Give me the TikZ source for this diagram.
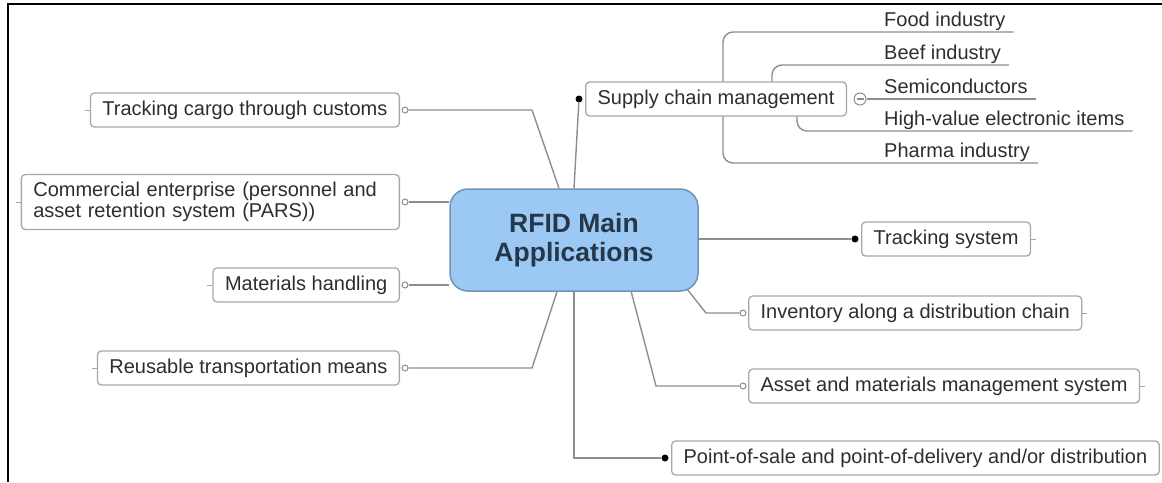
\documentclass[tikz,border=0pt]{standalone}
\usepackage{fontspec}
\setmainfont{Liberation Sans}
\usetikzlibrary{backgrounds}

\definecolor{linegray}{HTML}{8E8E8E}
\definecolor{boxgray}{HTML}{A8A8A8}
\definecolor{txtgray}{HTML}{2E2E2E}
\definecolor{mainblue}{HTML}{9CC9F4}
\definecolor{mainedge}{HTML}{7393B3}
\definecolor{maintext}{HTML}{27374A}

\tikzset{
  topic/.style={draw=boxgray, line width=1.3pt, rounded corners=4pt, fill=white, text=txtgray,
    font=\fontsize{20}{21}\selectfont, inner xsep=12pt, inner ysep=0pt, minimum height=34pt},
  subtopic/.style={text=txtgray, font=\fontsize{20}{21}\selectfont, inner xsep=0pt,
    inner ysep=1.5pt, text depth=4pt, anchor=south west},
  link/.style={draw=linegray, line width=1.4pt},
  stub/.style={draw=boxgray, line width=1pt},
  opendot/.style={circle, draw=linegray, fill=white, line width=1pt, inner sep=0pt, minimum size=6pt},
  fulldot/.style={circle, fill=black, inner sep=0pt, minimum size=7pt},
}

\begin{document}
\begin{tikzpicture}[x=1pt, y=-1pt]
        \useasboundingbox (0,0) rectangle (1162,482);

        % central topic
        \node[draw=mainedge, fill=mainblue, line width=1.5pt, rounded corners=18pt,
          minimum width=248pt, minimum height=102pt, align=center, text=maintext,
          font=\fontsize{26.5}{29}\selectfont\bfseries] (main) at (574,240) {RFID Main\\Applications};

        % left topics
        \node[topic, anchor=east] (cargo) at (400,110) {Tracking cargo through customs};
        \node[topic, anchor=east, text width=354pt, align=left, minimum height=55pt] (pars) at (400,202)
          {Commercial enterprise (personnel and\\asset retention system (PARS))};
        \node[topic, anchor=east] (handling) at (400,285) {Materials handling};
        \node[topic, anchor=east] (reuse) at (400,368) {Reusable transportation means};

        \node[opendot] (cargoc) at ([xshift=5pt]cargo.east) {};
        \node[opendot] (parsc) at ([xshift=5pt]pars.east) {};
        \node[opendot] (handlingc) at ([xshift=5pt]handling.east) {};
        \node[opendot] (reusec) at ([xshift=5pt]reuse.east) {};

        \draw[stub] (cargo.west) -- ++(-5,0);
        \draw[stub] (pars.west) -- ++(-5,0);
        \draw[stub] (handling.west) -- ++(-5,0);
        \draw[stub] (reuse.west) -- ++(-5,0);

        % right topics
        \node[fulldot] (supplyd) at (579,99) {};
        \node[topic, anchor=west] (supply) at (585,99) {Supply chain management};
        \node[fulldot] (trackd) at (855,239) {};
        \node[topic, anchor=west] (track) at (861,239) {Tracking system};
        \node[opendot] (invc) at (743,313) {};
        \node[topic, anchor=west] (inv) at (748,313) {Inventory along a distribution chain};
        \node[opendot] (assetc) at (743,386) {};
        \node[topic, anchor=west] (asset) at (748,386) {Asset and materials management system};
        \node[fulldot] (posd) at (665,458) {};
        \node[topic, anchor=west] (pos) at (671,458) {Point-of-sale and point-of-delivery and/or distribution};

        \draw[stub] (track.east) -- ++(5,0);
        \draw[stub] (inv.east) -- ++(5,0);
        \draw[stub] (asset.east) -- ++(5,0);

        % supply chain branches
        \node[opendot, minimum size=12pt] (fold) at (860,99) {};
        \draw[linegray, line width=1.2pt] ([xshift=-3.5pt]fold.center) -- ([xshift=3.5pt]fold.center);
        \node[subtopic] (food) at (884,32) {Food industry};
        \node[subtopic] (beef) at (884,65) {Beef industry};
        \node[subtopic] (semi) at (884,99) {Semiconductors};
        \node[subtopic] (hival) at (884,131) {High-value electronic items};
        \node[subtopic] (pharma) at (884,163) {Pharma industry};

        % connectors
        \begin{scope}[on background layer]
          \draw[link] (cargoc) -- (532,110) -- ([xshift=-15pt]main.north);
          \draw[link] (parsc) -- (parsc -| main.west);
          \draw[link] (handlingc) -- (handlingc -| main.west);
          \draw[link] (reusec) -- (532,368) -- ([xshift=-17pt]main.south);
          \draw[link] (main.north) -- (supplyd);
          \draw[link] (main.east |- trackd) -- (trackd);
          \draw[link] (invc) -- (706,313) -- (687,289);
          \draw[link] (assetc) -- (656,386) -- (631,291);
          \draw[link] (main.south) -- (574,458) -- (posd);

          \draw[link] (fold) -- ([xshift=8pt]semi.south east);
          \draw[link, rounded corners=10pt] ([xshift=8pt]food.south east) -- (723,32) -- (723,163)
            -- ([xshift=8pt]pharma.south east);
          \draw[link, rounded corners=10pt] ([xshift=8pt]beef.south east) -- (772,65) -- (772,99);
          \draw[link, rounded corners=10pt] (797,99) -- (797,131) -- ([xshift=8pt]hival.south east);
        \end{scope}

        % frame
        \draw[line width=2.5pt] (8,482) -- (8,4) -- (1162,4);
\end{tikzpicture}
\end{document}
